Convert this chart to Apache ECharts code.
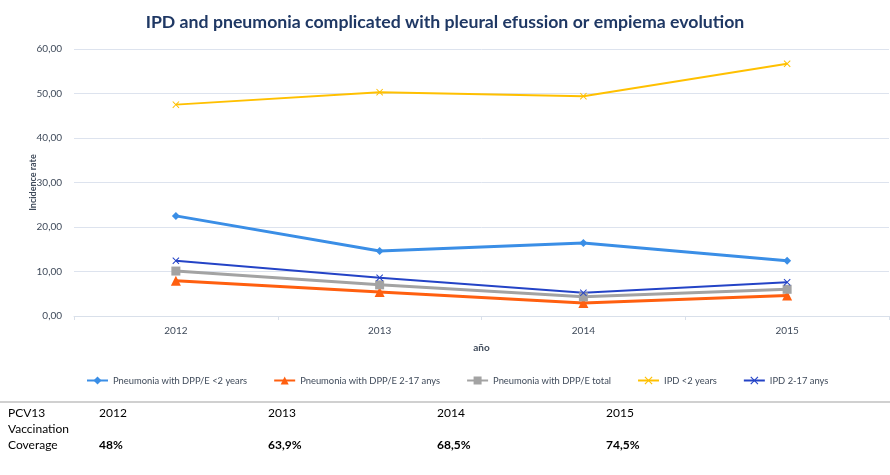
<!DOCTYPE html>
<html>
<head>
<meta charset="utf-8">
<script src="https://cdn.jsdelivr.net/npm/echarts@6/dist/echarts.min.js"></script>
<style>
  html, body { margin: 0; padding: 0; background: #fff; }
  #chart { width: 890px; height: 475px; }
</style>
</head>
<body>
<div id="chart"></div>
<script>
// Years on the category axis
const years = ['2012', '2013', '2014', '2015'];

// Incidence rates per series
const pneumoLt2 = [22.5, 14.6, 16.4, 12.4];
const pneumo2to17 = [7.9, 5.4, 2.9, 4.6];
const pneumoTotal = [10.1, 7.0, 4.3, 6.0];
const ipdLt2 = [47.5, 50.3, 49.4, 56.7];
const ipd2to17 = [12.4, 8.6, 5.2, 7.6];

// Y-axis ticks
const yMin = 0, yMax = 60, yStep = 10;

// PCV13 vaccination coverage table
const coverageYears = ['2012', '2013', '2014', '2015'];
const coverageValues = ['48%', '63,9%', '68,5%', '74,5%'];

const FONT = 'Lato, "Open Sans", sans-serif';
const crossPath = 'path://M0,1 L1,0 L5,4 L9,0 L10,1 L6,5 L10,9 L9,10 L5,6 L1,10 L0,9 L4,5 Z';

function lineSeries(name, data, color, width, symbol, size) {
  return {
    name, type: 'line', data,
    symbol, symbolSize: size, showSymbol: true,
    lineStyle: { color, width },
    itemStyle: { color },
    emphasis: { disabled: true }
  };
}

const chart = echarts.init(document.getElementById('chart'), null, { renderer: 'canvas' });

// Columns of the coverage table under the chart
const tableX = [99, 268, 437, 606];
const graphics = [
  { type: 'rect', shape: { x: 0, y: 401, width: 890, height: 2 }, style: { fill: '#d0d0d0' } },
  { type: 'text', x: 8, y: 413, style: { text: 'PCV13', font: '12px ' + FONT, fill: '#000', verticalAlign: 'middle' } },
  { type: 'text', x: 8, y: 429, style: { text: 'Vaccination', font: '12px ' + FONT, fill: '#000', verticalAlign: 'middle' } },
  { type: 'text', x: 8, y: 445, style: { text: 'Coverage', font: '12px ' + FONT, fill: '#000', verticalAlign: 'middle' } }
];
coverageYears.forEach((y, i) => {
  graphics.push({ type: 'text', x: tableX[i], y: 413, style: { text: y, font: '12px ' + FONT, fill: '#000', verticalAlign: 'middle' } });
  graphics.push({ type: 'text', x: tableX[i], y: 445, style: { text: coverageValues[i], font: 'bold 12px ' + FONT, fill: '#000', verticalAlign: 'middle' } });
});

chart.setOption({
  animation: false,
  backgroundColor: '#fff',
  title: {
    text: 'IPD and pneumonia complicated with pleural efussion or empiema evolution',
    left: 'center', top: 8,
    textStyle: { fontFamily: FONT, fontSize: 17.7, fontWeight: 'bold', color: '#1f3864' }
  },
  grid: { left: 74, right: 1, top: 49, bottom: 159, containLabel: false },
  legend: {
    left: 86, top: 376, padding: 0,
    itemWidth: 21, itemHeight: 10, itemGap: 26,
    textStyle: { fontFamily: FONT, fontSize: 9.4, color: '#3f4a5a' },
    data: ['Pneumonia with DPP/E <2 years', 'Pneumonia with DPP/E 2-17 anys', 'Pneumonia with DPP/E total', 'IPD <2 years', 'IPD 2-17 anys']
  },
  xAxis: {
    type: 'category', data: years, boundaryGap: true,
    name: 'año', nameLocation: 'middle', nameGap: 27,
    nameTextStyle: { fontFamily: FONT, fontSize: 10, fontWeight: 'bold', color: '#3f4a5a' },
    axisLine: { lineStyle: { color: '#d9e0ea', width: 1 } },
    axisTick: { show: true, length: 4, lineStyle: { color: '#d9e0ea' } },
    axisLabel: { fontFamily: FONT, fontSize: 10, color: '#3f4a5a', margin: 10 }
  },
  yAxis: {
    type: 'value', min: yMin, max: yMax, interval: yStep,
    name: 'Incidence rate', nameLocation: 'middle', nameGap: 36,
    nameMoveOverlap: false,
    nameTextStyle: { fontFamily: FONT, fontSize: 9, fontWeight: 'bold', color: '#3f4a5a' },
    axisLine: { show: false }, axisTick: { show: false },
    axisLabel: {
      fontFamily: FONT, fontSize: 10, color: '#3f4a5a', margin: 12,
      formatter: v => v.toFixed(2).replace('.', ',')
    },
    splitLine: { lineStyle: { color: '#dde3ee', width: 1 } }
  },
  series: [
    lineSeries('Pneumonia with DPP/E <2 years', pneumoLt2, '#3a8ee6', 3, 'diamond', 8),
    lineSeries('Pneumonia with DPP/E 2-17 anys', pneumo2to17, '#ff5f0f', 3, 'triangle', 10),
    lineSeries('Pneumonia with DPP/E total', pneumoTotal, '#a3a3a3', 3, 'rect', 9),
    lineSeries('IPD <2 years', ipdLt2, '#ffc000', 2, crossPath, 7),
    lineSeries('IPD 2-17 anys', ipd2to17, '#2443c6', 2, crossPath, 7)
  ],
  graphic: graphics
});
</script>
</body>
</html>
